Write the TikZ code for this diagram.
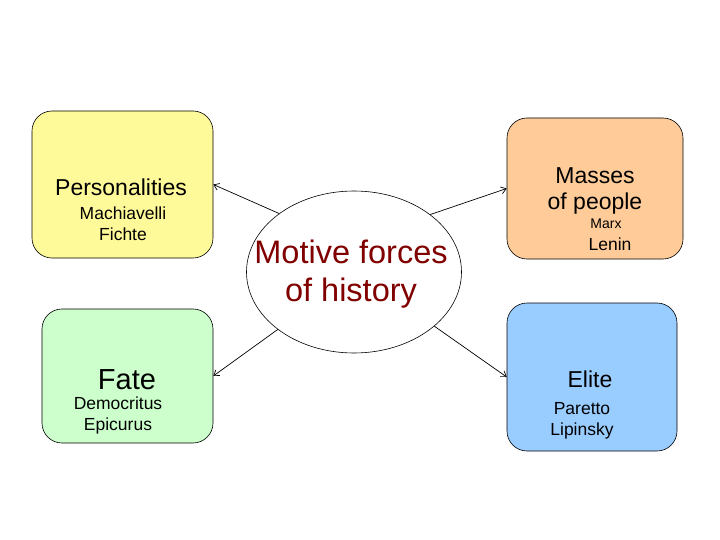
\documentclass[tikz,border=0pt]{standalone}
\usepackage{fontspec}
\setmainfont{Liberation Sans}
\usepackage{tikz}
\usetikzlibrary{arrows.meta,shapes.geometric}

\begin{document}
\begin{tikzpicture}[x=1pt,y=-1pt,>={Straight Barb[length=5pt,width=7pt]},
  box/.style={draw,line width=0.6pt,rounded corners=20pt,inner sep=0pt},
  head/.style={font=\fontsize{23}{26}\selectfont,inner sep=0pt},
  who/.style={font=\fontsize{17.5}{21}\selectfont,inner sep=0pt,align=center}]
  \useasboundingbox (0,0) rectangle (720,540);
  % the four boxes
  \node[box,fill=yellow!40!white,minimum width=181pt,minimum height=147pt] (pers) at (122.5,184.5) {};
  \node[box,fill={rgb,255:red,255;green,204;blue,153},minimum width=176pt,minimum height=141pt] (mass) at (595,188.5) {};
  \node[box,fill={rgb,255:red,204;green,255;blue,204},minimum width=171pt,minimum height=134pt] (fate) at (127.5,376) {};
  \node[box,fill={rgb,255:red,153;green,204;blue,255},minimum width=170pt,minimum height=148pt] (elite) at (592,377) {};
  % centre
  \node[draw,ellipse,line width=0.6pt,minimum width=215pt,minimum height=162pt,inner sep=0pt] (motive) at (354,272) {};
  \node[font=\fontsize{32.5}{38}\selectfont,text={rgb,255:red,128;green,0;blue,0},align=center,inner sep=0pt] (motivetxt) at (351,274) {Motive forces\\of history};
  % texts
  \node[head] (perstxt) at (121,187) {Personalities};
  \node[who] (persnames) at (123,223.5) {Machiavelli\\Fichte};
  \node[head,align=center] (masstxt) at (595,190.5) {Masses\\of people};
  \node[font=\fontsize{14}{16}\selectfont,inner sep=0pt] (marx) at (606,224) {Marx};
  \node[who] (lenin) at (610,244) {Lenin};
  \node[font=\fontsize{29}{34}\selectfont,inner sep=0pt] (fatetxt) at (127,380) {Fate};
  \node[who] (fatenames) at (118,415.5) {Democritus\\Epicurus};
  \node[head] (elitetxt) at (590,379) {Elite};
  \node[who] (elitenames) at (582,421) {Paretto\\Lipinsky};
  % arrows
  \draw[->,line width=0.7pt] (motive.142) -- (pers.east);
  \draw[->,line width=0.7pt] (motive.37) -- (mass.west);
  \draw[->,line width=0.7pt] (motive.217) -- (fate.east);
  \draw[->,line width=0.7pt] (motive.326) -- (elite.west);
\end{tikzpicture}
\end{document}
